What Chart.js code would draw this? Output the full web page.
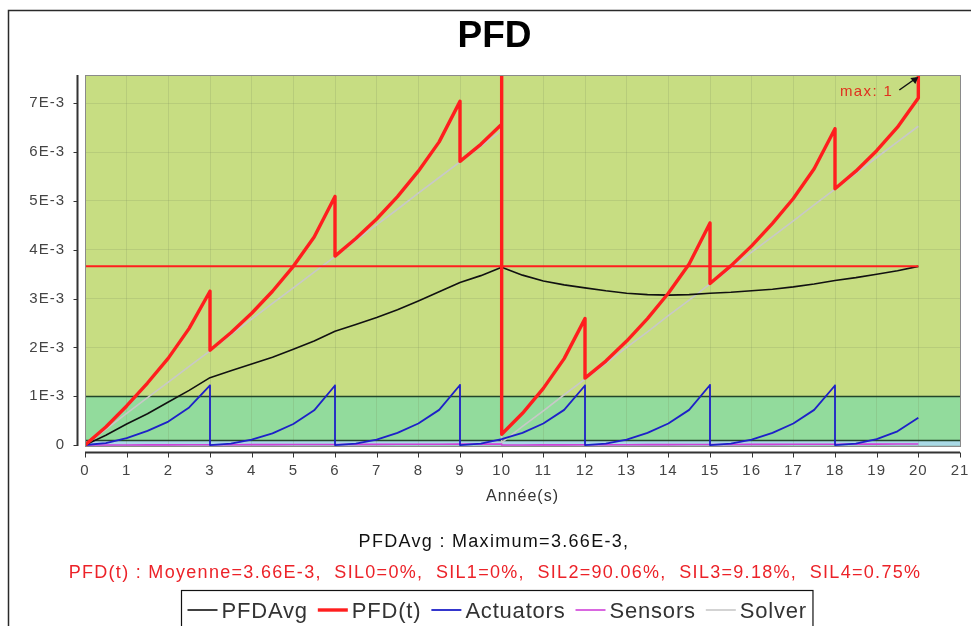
<!DOCTYPE html>
<html>
<head>
<meta charset="utf-8">
<title>PFD</title>
<script src="https://cdn.jsdelivr.net/npm/chart.js@4/dist/chart.umd.min.js"></script>
<style>
  html, body { margin: 0; padding: 0; background: #fff; }
  #wrap { width: 971px; height: 626px; }
</style>
</head>
<body>
<div id="wrap"><canvas id="pfd" width="971" height="626"></canvas></div>
<script>
// Time axis (years). Repeated years mark the instant of a proof test / reset.
const years = [
  0, 0.5, 1, 1.5, 2, 2.5, 3, 3,
  3.5, 4, 4.5, 5, 5.5, 6, 6,
  6.5, 7, 7.5, 8, 8.5, 9, 9,
  9.5, 10, 10, 10,
  10.5, 11, 11.5, 12, 12,
  12.5, 13, 13.5, 14, 14.5, 15, 15,
  15.5, 16, 16.5, 17, 17.5, 18, 18,
  18.5, 19, 19.5, 20, 20
];

// Average probability of failure on demand
const pfdAvg = [
  0, 0.20e-3, 0.43e-3, 0.64e-3, 0.88e-3, 1.12e-3, 1.38e-3, 1.38e-3,
  1.52e-3, 1.66e-3, 1.80e-3, 1.96e-3, 2.13e-3, 2.33e-3, 2.33e-3,
  2.47e-3, 2.61e-3, 2.77e-3, 2.95e-3, 3.14e-3, 3.33e-3, 3.33e-3,
  3.47e-3, 3.64e-3, 3.64e-3, 3.64e-3,
  3.48e-3, 3.36e-3, 3.28e-3, 3.22e-3, 3.22e-3,
  3.16e-3, 3.11e-3, 3.08e-3, 3.07e-3, 3.08e-3, 3.11e-3, 3.11e-3,
  3.13e-3, 3.16e-3, 3.19e-3, 3.24e-3, 3.30e-3, 3.37e-3, 3.37e-3,
  3.43e-3, 3.50e-3, 3.57e-3, 3.66e-3, 3.66e-3
];

// Instantaneous PFD(t); the full test at 10 and 20 years shows as a spike to 1
const pfdT = [
  0, 0.37e-3, 0.80e-3, 1.27e-3, 1.78e-3, 2.39e-3, 3.15e-3, 1.94e-3,
  2.30e-3, 2.70e-3, 3.15e-3, 3.66e-3, 4.26e-3, 5.09e-3, 3.87e-3,
  4.23e-3, 4.63e-3, 5.09e-3, 5.61e-3, 6.21e-3, 7.04e-3, 5.81e-3,
  6.16e-3, 6.57e-3, 1, 0.22e-3,
  0.65e-3, 1.16e-3, 1.77e-3, 2.59e-3, 1.37e-3,
  1.72e-3, 2.13e-3, 2.59e-3, 3.11e-3, 3.71e-3, 4.55e-3, 3.31e-3,
  3.67e-3, 4.08e-3, 4.54e-3, 5.05e-3, 5.66e-3, 6.48e-3, 5.25e-3,
  5.61e-3, 6.03e-3, 6.51e-3, 7.11e-3, 1
];

const actuators = [
  0, 0.04e-3, 0.14e-3, 0.29e-3, 0.48e-3, 0.77e-3, 1.22e-3, 0,
  0.03e-3, 0.11e-3, 0.24e-3, 0.43e-3, 0.71e-3, 1.22e-3, 0,
  0.03e-3, 0.11e-3, 0.25e-3, 0.44e-3, 0.72e-3, 1.23e-3, 0,
  0.03e-3, 0.12e-3, 0.12e-3, 0.12e-3,
  0.25e-3, 0.44e-3, 0.72e-3, 1.22e-3, 0,
  0.03e-3, 0.11e-3, 0.25e-3, 0.44e-3, 0.72e-3, 1.23e-3, 0,
  0.03e-3, 0.11e-3, 0.25e-3, 0.44e-3, 0.72e-3, 1.22e-3, 0,
  0.03e-3, 0.12e-3, 0.28e-3, 0.56e-3, 0.56e-3
];

const sensors = [
  0, 0.001e-3, 0.002e-3, 0.003e-3, 0.004e-3, 0.005e-3, 0.006e-3, 0.006e-3,
  0.007e-3, 0.008e-3, 0.009e-3, 0.010e-3, 0.011e-3, 0.012e-3, 0.012e-3,
  0.013e-3, 0.014e-3, 0.015e-3, 0.016e-3, 0.017e-3, 0.018e-3, 0.018e-3,
  0.019e-3, 0.020e-3, 0.020e-3, 0.001e-3,
  0.002e-3, 0.003e-3, 0.004e-3, 0.005e-3, 0.005e-3,
  0.006e-3, 0.007e-3, 0.008e-3, 0.009e-3, 0.010e-3, 0.011e-3, 0.011e-3,
  0.012e-3, 0.013e-3, 0.014e-3, 0.015e-3, 0.016e-3, 0.017e-3, 0.017e-3,
  0.018e-3, 0.019e-3, 0.020e-3, 0.021e-3, 0.021e-3
];

const solver = [
  0, 0.32e-3, 0.65e-3, 0.97e-3, 1.29e-3, 1.61e-3, 1.93e-3, 1.93e-3,
  2.26e-3, 2.58e-3, 2.90e-3, 3.22e-3, 3.54e-3, 3.86e-3, 3.86e-3,
  4.19e-3, 4.51e-3, 4.83e-3, 5.16e-3, 5.48e-3, 5.80e-3, 5.80e-3,
  6.12e-3, 6.44e-3, 6.44e-3, 0.05e-3,
  0.38e-3, 0.70e-3, 1.03e-3, 1.35e-3, 1.35e-3,
  1.67e-3, 2.00e-3, 2.32e-3, 2.65e-3, 2.97e-3, 3.30e-3, 3.30e-3,
  3.62e-3, 3.95e-3, 4.27e-3, 4.59e-3, 4.92e-3, 5.24e-3, 5.24e-3,
  5.56e-3, 5.89e-3, 6.21e-3, 6.53e-3, 6.53e-3
];

// Mean of PFD(t) over the mission time
const meanYears = [0, 20];
const meanValue = 3.66e-3;

// Share of time spent in each SIL zone (%)
const silNames = ['SIL0', 'SIL1', 'SIL2', 'SIL3', 'SIL4'];
const silShares = [0, 0, 90.06, 9.18, 0.75];

// SIL zone limits drawn behind the curves
const silLimits = [1e-4, 1e-3];
const silColors = ['#a9d9e6', '#92db9c', '#c7dd82'];

// Axis ticks
const xTicks = [0, 1, 2, 3, 4, 5, 6, 7, 8, 9, 10, 11, 12, 13, 14, 15, 16, 17, 18, 19, 20, 21];
const yTicks = [0, 1e-3, 2e-3, 3e-3, 4e-3, 5e-3, 6e-3, 7e-3];
const yTickLabels = ['0', '1E-3', '2E-3', '3E-3', '4E-3', '5E-3', '6E-3', '7E-3'];

const FONT = "'Liberation Sans', Arial, sans-serif";
const fmtE3 = v => (v / 1e-3).toFixed(2) + 'E-3';
const toPoints = values => years.map((t, i) => ({ x: t, y: values[i] }));

// Plot background: white page, outer frame and the SIL zones
const backdrop = {
  id: 'backdrop',
  beforeDraw(chart) {
    const { ctx, chartArea: a, scales: { y } } = chart;
    ctx.save();
    ctx.fillStyle = '#fff';
    ctx.fillRect(0, 0, chart.width, chart.height);
    ctx.strokeStyle = '#2a2a2a';
    ctx.lineWidth = 1.5;
    ctx.strokeRect(8.5, 10.5, chart.width + 40, chart.height + 40);

    const edges = [y.min, ...silLimits, y.max];
    for (let i = 0; i < silColors.length; i++) {
      const top = y.getPixelForValue(edges[i + 1]);
      const bottom = y.getPixelForValue(edges[i]);
      ctx.fillStyle = silColors[i];
      ctx.fillRect(a.left, top, a.right - a.left, bottom - top);
    }
    ctx.restore();
    ctx.letterSpacing = '1px';
  },
  beforeDatasetsDraw(chart) {
    const { ctx, chartArea: a, scales: { y } } = chart;
    ctx.save();
    ctx.strokeStyle = '#23452a';
    ctx.lineWidth = 1.6;
    silLimits.forEach(v => {
      const py = Math.round(y.getPixelForValue(v)) + 0.5;
      ctx.beginPath();
      ctx.moveTo(a.left, py);
      ctx.lineTo(a.right, py);
      ctx.stroke();
    });
    ctx.restore();
  }
};

// Axis lines, plot outline, title, summary lines, "max" pointer and legend
const decorations = {
  id: 'decorations',
  afterDraw(chart) {
    const { ctx, chartArea: a, scales: { x, y } } = chart;
    ctx.save();
    ctx.letterSpacing = '0px';

    // plot outline
    ctx.strokeStyle = '#8a8a8a';
    ctx.lineWidth = 1;
    ctx.strokeRect(Math.round(a.left) + 0.5, Math.round(a.top) + 0.5,
      Math.round(a.right - a.left), Math.round(a.bottom - a.top));

    // axis lines set slightly apart from the plot
    ctx.strokeStyle = '#333';
    ctx.lineWidth = 2;
    const axX = a.left - 7.5;
    ctx.beginPath();
    ctx.moveTo(axX, a.top);
    ctx.lineTo(axX, a.bottom);
    ctx.stroke();
    ctx.lineWidth = 1;
    yTicks.forEach(v => {
      const py = Math.round(y.getPixelForValue(v)) + 0.5;
      ctx.beginPath();
      ctx.moveTo(axX - 4, py);
      ctx.lineTo(axX, py);
      ctx.stroke();
    });
    const axY = a.bottom + 6.5;
    ctx.lineWidth = 2;
    ctx.beginPath();
    ctx.moveTo(a.left, axY);
    ctx.lineTo(a.right, axY);
    ctx.stroke();
    ctx.lineWidth = 1;
    xTicks.forEach(v => {
      const px = Math.round(x.getPixelForValue(v)) + 0.5;
      ctx.beginPath();
      ctx.moveTo(px, axY);
      ctx.lineTo(px, axY + 5);
      ctx.stroke();
    });

    // title
    ctx.fillStyle = '#000';
    ctx.textAlign = 'center';
    ctx.textBaseline = 'alphabetic';
    ctx.font = `bold 37px ${FONT}`;
    ctx.fillText('PFD', 494.5, 47);

    // summary lines
    ctx.font = `18px ${FONT}`;
    ctx.letterSpacing = '1.3px';
    ctx.fillStyle = '#111';
    ctx.fillText(`PFDAvg : Maximum=${fmtE3(Math.max(...pfdAvg))},`, 494, 547);
    const sil = silNames.map((n, i) => `${n}=${silShares[i]}%`).join(',  ');
    ctx.fillStyle = '#ec2228';
    ctx.fillText(`PFD(t) : Moyenne=${fmtE3(meanValue)},  ${sil}`, 495, 578);

    // pointer to the maximum of PFD(t)
    const maxVal = Math.max(...pfdT);
    const maxIdx = pfdT.lastIndexOf(maxVal);
    const tipX = x.getPixelForValue(years[maxIdx]);
    const tipY = a.top + 2;
    ctx.letterSpacing = '1.4px';
    ctx.font = `15px ${FONT}`;
    ctx.fillStyle = '#e0301e';
    ctx.textAlign = 'right';
    ctx.fillText(`max: ${maxVal}`, tipX - 25, tipY + 19);
    ctx.strokeStyle = '#111';
    ctx.lineWidth = 1.5;
    ctx.beginPath();
    ctx.moveTo(tipX - 19, tipY + 13);
    ctx.lineTo(tipX - 2, tipY + 1);
    ctx.stroke();
    ctx.fillStyle = '#111';
    ctx.beginPath();
    ctx.moveTo(tipX, tipY);
    ctx.lineTo(tipX - 8, tipY + 1);
    ctx.lineTo(tipX - 3, tipY + 7);
    ctx.closePath();
    ctx.fill();

    // legend
    const shown = chart.data.datasets.filter(d => !d.reference);
    ctx.font = `22px ${FONT}`;
    ctx.letterSpacing = '0.8px';
    ctx.textAlign = 'left';
    const sym = 30, gap = 4, space = 10, pad = 6;
    const widths = shown.map(d => ctx.measureText(d.label).width);
    const total = widths.reduce((s, w) => s + w + sym + gap, 0) + space * (shown.length - 1) + pad * 2;
    const boxL = Math.round(496.5 - total / 2) + 0.5;
    const boxT = 590.5;
    ctx.strokeStyle = '#111';
    ctx.lineWidth = 1.2;
    ctx.strokeRect(boxL, boxT, total, 60);
    let cx = boxL + pad;
    const ly = 610;
    shown.forEach((d, i) => {
      ctx.strokeStyle = d.borderColor;
      ctx.lineWidth = d.borderWidth;
      ctx.beginPath();
      ctx.moveTo(cx, ly);
      ctx.lineTo(cx + sym, ly);
      ctx.stroke();
      ctx.fillStyle = '#333';
      ctx.fillText(d.label, cx + sym + gap, 618);
      cx += sym + gap + widths[i] + space;
    });
    ctx.restore();
  }
};

const gridColor = 'rgba(120, 140, 90, 0.2)';

new Chart(document.getElementById('pfd'), {
  type: 'line',
  data: {
    datasets: [
      { label: 'PFDAvg', data: toPoints(pfdAvg), borderColor: '#111111', borderWidth: 1.6, order: 2 },
      { label: 'PFD(t)', data: toPoints(pfdT), borderColor: '#ff1e1e', borderWidth: 3.4, order: 1 },
      { label: 'Actuators', data: toPoints(actuators), borderColor: '#1d20c8', borderWidth: 1.8, order: 3 },
      { label: 'Sensors', data: toPoints(sensors), borderColor: '#d040d8', borderWidth: 1.6, order: 4 },
      { label: 'Solver', data: toPoints(solver), borderColor: '#c8c8c8', borderWidth: 1.6, order: 5 },
      { label: 'Moyenne', reference: true, data: meanYears.map(t => ({ x: t, y: meanValue })),
        borderColor: '#ff1e1e', borderWidth: 2, order: 0 }
    ]
  },
  options: {
    responsive: false,
    animation: false,
    devicePixelRatio: 1,
    elements: {
      point: { radius: 0 },
      line: { tension: 0, borderJoinStyle: 'round', borderCapStyle: 'butt' }
    },
    layout: { padding: { left: 0, right: 11, top: 75, bottom: 120 } },
    plugins: {
      legend: { display: false },
      title: { display: false },
      tooltip: { enabled: false }
    },
    scales: {
      x: {
        type: 'linear',
        min: 0,
        max: 21,
        afterBuildTicks: s => { s.ticks = xTicks.map(v => ({ value: v })); },
        afterFit: s => { s.height = 60; s.paddingLeft = 0; s.paddingRight = 0; },
        border: { display: false },
        grid: { color: gridColor, drawTicks: false },
        ticks: {
          padding: 16,
          maxRotation: 0,
          autoSkip: false,
          color: '#444',
          font: { family: FONT, size: 15 },
          callback: v => String(v)
        },
        title: {
          display: true,
          text: 'Année(s)',
          color: '#333',
          font: { family: FONT, size: 16 },
          padding: { top: 0, bottom: 0 }
        }
      },
      y: {
        type: 'linear',
        min: -0.02e-3,
        max: 7.58e-3,
        afterBuildTicks: s => { s.ticks = yTicks.map(v => ({ value: v })); },
        afterFit: s => { s.width = 85; s.paddingTop = 0; s.paddingBottom = 0; },
        border: { display: false },
        grid: { color: gridColor, drawTicks: false },
        ticks: {
          padding: 20,
          autoSkip: false,
          color: '#444',
          font: { family: FONT, size: 15 },
          callback: v => yTickLabels[yTicks.indexOf(v)]
        }
      }
    }
  },
  plugins: [backdrop, decorations]
});
</script>
</body>
</html>
